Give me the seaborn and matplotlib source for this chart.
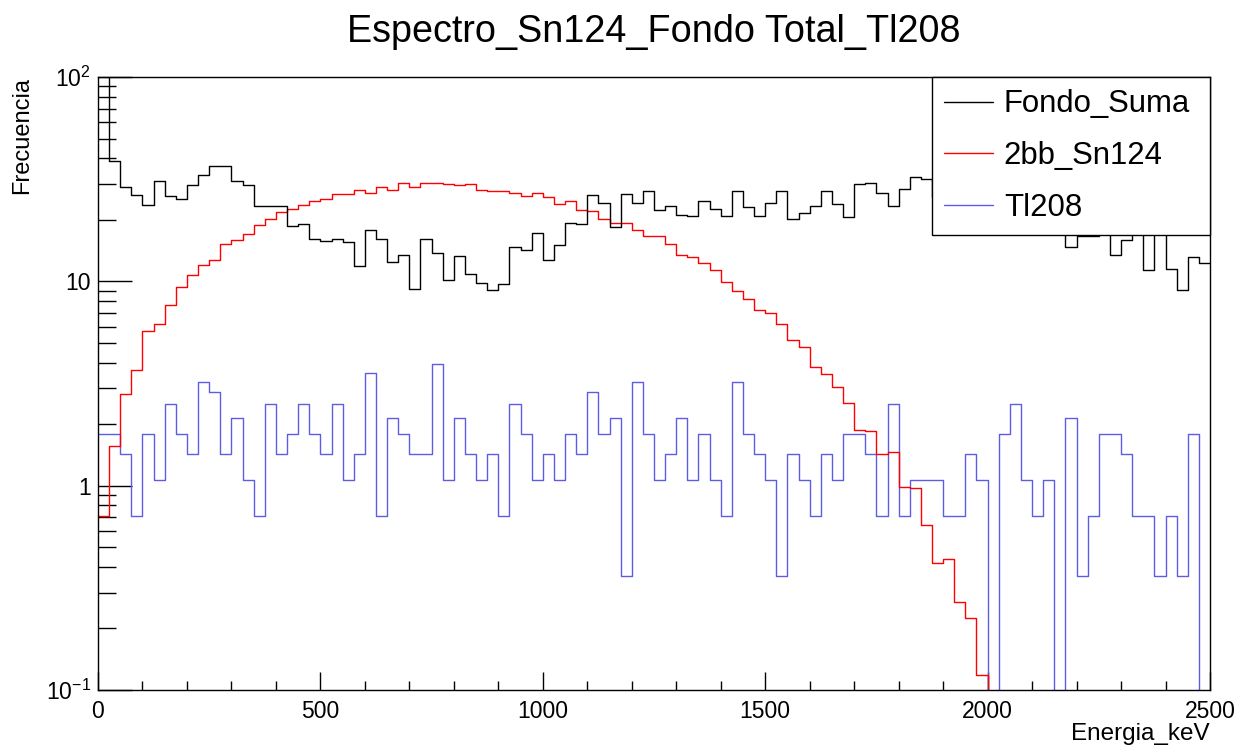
import numpy as np
import pandas as pd
import matplotlib
matplotlib.use("Agg")
import matplotlib.pyplot as plt
import seaborn as sns
from matplotlib.lines import Line2D
from matplotlib.ticker import FixedLocator, MultipleLocator, NullFormatter

sns.set_theme(style="white")
plt.rcParams["font.family"] = ["Liberation Sans", "DejaVu Sans"]
plt.rcParams["mathtext.fontset"] = "custom"
plt.rcParams["mathtext.rm"] = "Liberation Sans"
plt.rcParams["mathtext.it"] = "Liberation Sans:italic"
plt.rcParams["mathtext.bf"] = "Liberation Sans:bold"
plt.rcParams["text.color"] = "black"
plt.rcParams["axes.labelcolor"] = "black"
plt.rcParams["xtick.color"] = "black"
plt.rcParams["ytick.color"] = "black"

# ---------------- data (100 bins of 25 keV, 0-2500 keV) ----------------
E_MIN, E_MAX, BIN_WIDTH = 0, 2500, 25

fondo_suma = [
    120, 38.6, 28.9, 26.5, 23.6, 30.9, 26.3, 25.3, 29.7, 33.0,
    36.5, 36.5, 31.0, 29.7, 23.3, 23.5, 23.5, 18.7, 19.1, 16.1,
    15.8, 16.1, 15.6, 11.9, 17.8, 16.1, 12.5, 13.4, 9.2, 16.1,
    13.8, 10.1, 13.3, 10.9, 9.78, 9.03, 9.65, 14.7, 14.2, 17.2,
    12.7, 15.1, 19.3, 19.1, 26.4, 24.3, 18.4, 26.7, 24.1, 27.7,
    22.4, 23.5, 21.1, 20.9, 24.6, 22.7, 20.9, 27.6, 23.1, 20.8,
    24.3, 27.6, 20.2, 21.6, 23.3, 27.6, 24.0, 20.6, 29.8, 30.2,
    27.0, 23.5, 28.4, 32.4, 31.7, 26.0, 30.0, 24.0, 28.0, 31.0,
    27.0, 25.0, 29.0, 30.0, 26.0, 24.0, 22.0, 14.8, 16.6, 16.6,
    21.0, 13.4, 15.9, 17.0, 11.4, 20.0, 11.5, 9.03, 13.2, 12.3,
]

sn124_2bb = [
    0.71, 1.56, 2.81, 3.67, 5.7, 6.2, 7.67, 9.4, 10.8, 12.0,
    12.7, 15.2, 16.0, 17.1, 18.9, 20.3, 21.8, 22.6, 23.6, 24.6,
    25.3, 26.8, 26.8, 28.0, 27.0, 29.1, 28.1, 30.2, 28.9, 30.2,
    30.2, 29.9, 29.7, 29.9, 28.0, 27.6, 27.6, 27.0, 26.3, 27.0,
    26.0, 24.0, 24.7, 22.4, 22.1, 20.1, 19.3, 19.3, 17.8, 16.6,
    16.6, 15.2, 13.4, 13.2, 12.3, 11.4, 9.87, 8.95, 8.24, 7.28,
    7.02, 6.21, 5.15, 4.78, 3.82, 3.52, 3.03, 2.55, 1.87, 1.85,
    1.43, 1.46, 0.99, 0.97, 0.645, 0.42, 0.44, 0.27, 0.225, 0.119,
    0, 0, 0, 0, 0, 0, 0, 0, 0, 0,
    0, 0, 0, 0, 0, 0, 0, 0, 0, 0,
]

tl208 = [
    1.79, 1.79, 1.43, 0.71, 1.79, 1.07, 2.5, 1.79, 1.43, 3.21,
    2.86, 1.43, 2.14, 1.07, 0.71, 2.5, 1.43, 1.79, 2.5, 1.79,
    1.43, 2.5, 1.07, 1.43, 3.57, 0.71, 2.14, 1.79, 1.43, 1.43,
    3.93, 1.07, 2.14, 1.43, 1.07, 1.43, 0.71, 2.5, 1.79, 1.07,
    1.43, 1.07, 1.79, 1.43, 2.86, 1.79, 2.14, 0.36, 3.21, 1.79,
    1.07, 1.43, 2.14, 1.07, 1.79, 1.07, 0.71, 3.21, 1.79, 1.43,
    1.07, 0.36, 1.43, 1.07, 0.71, 1.43, 1.07, 1.79, 1.79, 1.43,
    0.71, 2.5, 0.71, 1.07, 1.07, 1.07, 0.71, 0.71, 1.43, 1.07,
    0, 1.79, 2.5, 1.07, 0.71, 1.07, 0, 2.14, 0.36, 0.71,
    1.79, 1.79, 1.43, 0.71, 0.71, 0.36, 0.71, 0.36, 1.79, 0,
]

series_names = ["Fondo_Suma", "2bb_Sn124", "Tl208"]
series_colors = ["#000000", "#ff0000", "#5c5ce6"]
title = "Espectro_Sn124_Fondo Total_Tl208"
x_label = "Energia_keV"
y_label = "Frecuencia"
y_tick_values = [0.1, 1, 10, 100]
y_tick_labels = [r"$10^{-1}$", "1", "10", r"$10^{2}$"]

# ---------------- build long table ----------------
n_bins = len(fondo_suma)
centers = E_MIN + BIN_WIDTH * (np.arange(n_bins) + 0.5)
frames = []
for name, vals in zip(series_names, [fondo_suma, sn124_2bb, tl208]):
    frames.append(pd.DataFrame({"energia": centers, "frecuencia": vals, "serie": name}))
df = pd.concat(frames, ignore_index=True)

# ---------------- figure ----------------
fig = plt.figure(figsize=(12.46, 7.47), dpi=100)
fig.subplots_adjust(left=98 / 1246, right=1210 / 1246, top=1 - 77 / 747, bottom=1 - 690 / 747)
ax = fig.add_subplot(111)

sns.histplot(
    data=df, x="energia", weights="frecuencia", hue="serie",
    hue_order=series_names, palette=dict(zip(series_names, series_colors)),
    binwidth=BIN_WIDTH, binrange=(E_MIN, E_MAX), element="step", fill=False,
    linewidth=1.0, legend=False, ax=ax,
)

ax.set_yscale("log")
ax.set_xlim(E_MIN, E_MAX)
ax.set_ylim(0.1, 100)

# ticks
ax.xaxis.set_major_locator(MultipleLocator(500))
ax.xaxis.set_minor_locator(MultipleLocator(100))
ax.yaxis.set_major_locator(FixedLocator(y_tick_values))
ax.set_yticklabels(y_tick_labels)
ax.yaxis.set_minor_locator(FixedLocator(
    [m * d for d in (0.1, 1, 10) for m in range(2, 10)]))
ax.yaxis.set_minor_formatter(NullFormatter())

ax.tick_params(axis="x", which="major", direction="in", length=13, width=1,
               color="black", labelcolor="black", labelsize=16.5, pad=7,
               top=False, bottom=True)
ax.tick_params(axis="x", which="minor", direction="in", length=6.5, width=1,
               color="black", top=False, bottom=True)
ax.tick_params(axis="y", which="major", direction="in", length=24.5, width=1,
               color="black", labelcolor="black", labelsize=16.5, pad=5,
               left=True, right=False)
ax.tick_params(axis="y", which="minor", direction="in", length=13, width=1,
               color="black", left=True, right=False)

for s in ax.spines.values():
    s.set_color("black")
    s.set_linewidth(1.0)

ax.set_title(title, fontsize=27.2, pad=25, color="black")
ax.set_xlabel(x_label, fontsize=17.5, loc="right", color="black")
ax.xaxis.set_label_coords(1.0, -0.054)
ax.set_ylabel(y_label, fontsize=17, loc="top", color="black")
ax.yaxis.set_label_coords(-0.058, 1.0)

handles = [Line2D([], [], color=c, lw=1.0) for c in series_colors]
leg = ax.legend(
    handles, series_names, loc="upper left",
    bbox_to_anchor=(0.75, 0.0, 0.25, 1.0), mode="expand", borderaxespad=0,
    fontsize=22.4, frameon=True, fancybox=False, framealpha=1,
    edgecolor="black", borderpad=0.40, labelspacing=0.70,
    handlelength=1.57, handletextpad=0.34,
)
leg.get_frame().set_linewidth(1.0)
for t in leg.get_texts():
    t.set_color("black")
leg.set_zorder(5)

fig.savefig("out.png", dpi=100)
